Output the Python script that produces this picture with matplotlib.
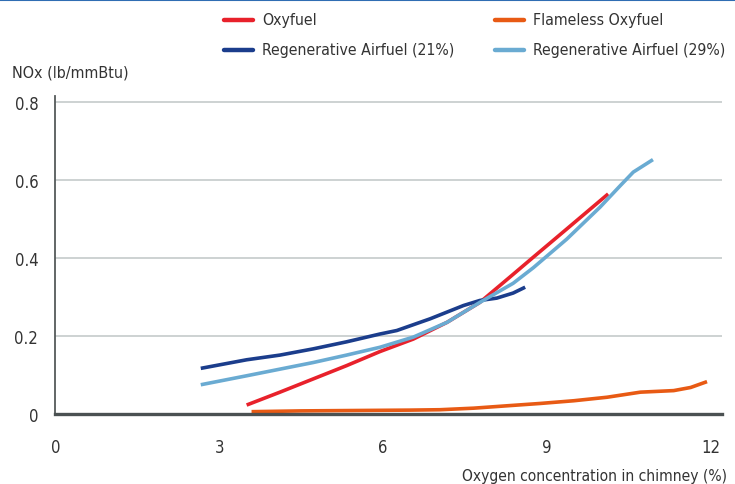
import matplotlib
matplotlib.use("Agg")
import matplotlib.pyplot as plt
from matplotlib.lines import Line2D

plt.rcParams["font.family"] = ["DejaVu Sans"]
plt.rcParams["font.stretch"] = "condensed"

# ---- data ----
series_names = ["Oxyfuel", "Flameless Oxyfuel",
                "Regenerative Airfuel (21%)", "Regenerative Airfuel (29%)"]
series_colors = ["#e8212b", "#e85a14", "#1b3d8c", "#6aabd2"]

oxy_x = [3.50, 4.11, 4.72, 5.33, 5.94, 6.55, 7.17, 7.77, 8.38, 8.75, 9.36, 10.12]
oxy_y = [0.023, 0.056, 0.090, 0.124, 0.160, 0.192, 0.235, 0.286, 0.358, 0.402, 0.474, 0.564]

flameless_x = [3.59, 4.5, 5.5, 6.5, 7.04, 7.66, 8.26, 8.87, 9.49, 10.10, 10.71, 11.32, 11.63, 11.93]
flameless_y = [0.006, 0.008, 0.009, 0.010, 0.011, 0.015, 0.021, 0.027, 0.034, 0.043, 0.056, 0.060, 0.068, 0.083]

regen21_x = [2.66, 3.50, 4.11, 4.72, 5.33, 5.94, 6.25, 6.86, 7.47, 7.77, 8.08, 8.38, 8.60]
regen21_y = [0.117, 0.139, 0.151, 0.167, 0.185, 0.205, 0.214, 0.244, 0.278, 0.291, 0.297, 0.310, 0.325]

regen29_x = [2.66, 3.50, 4.11, 4.72, 5.33, 5.94, 6.55, 7.17, 7.77, 8.38, 8.75, 9.36, 9.97, 10.34, 10.58, 10.94]
regen29_y = [0.075, 0.098, 0.115, 0.132, 0.151, 0.171, 0.197, 0.235, 0.286, 0.335, 0.375, 0.448, 0.530, 0.585, 0.620, 0.652]

x_ticks = [0, 3, 6, 9, 12]
y_ticks = [0, 0.2, 0.4, 0.6, 0.8]
y_tick_labels = ["0", "0.2", "0.4", "0.6", "0.8"]

# ---- figure ----
fig = plt.figure(figsize=(7.35, 4.85), dpi=100)
ax = fig.add_axes([0.0755, 0.1443, 0.9065, 0.6557])
ax.set_xlim(0, 12.2)
ax.set_ylim(0, 0.815)

for yv in y_ticks[1:]:
    ax.axhline(yv, color="#c5cbcb", lw=1.2, zorder=1)

xs = [oxy_x, flameless_x, regen21_x, regen29_x]
ys = [oxy_y, flameless_y, regen21_y, regen29_y]
order = [1, 2, 3, 0]
for i in order:
    ax.plot(xs[i], ys[i], color=series_colors[i], lw=2.6,
            solid_capstyle="butt", solid_joinstyle="round", zorder=3 + i)

for side in ["top", "right"]:
    ax.spines[side].set_visible(False)
ax.spines["left"].set_color("#555a5b")
ax.spines["left"].set_linewidth(1.3)
ax.spines["bottom"].set_color("#4b5152")
ax.spines["bottom"].set_linewidth(2.4)
ax.spines["bottom"].set_zorder(10)

ax.set_xticks(x_ticks)
ax.set_yticks(y_ticks)
ax.set_yticklabels(y_tick_labels)
ax.tick_params(axis="x", length=0, pad=17, labelsize=12, colors="#333333")
ax.tick_params(axis="y", length=0, pad=12.5, labelsize=12, colors="#333333")

fig.text(0.016, 0.849, "NOx (lb/mmBtu)", fontsize=11.5, color="#333333",
         ha="left", va="center")
fig.text(0.989, 0.018, "Oxygen concentration in chimney (%)", fontsize=11.2,
         color="#333333", ha="right", va="center")

# legend, drawn by hand in two rows
leg_pos = [(224, 20.5), (495, 20.5), (224, 51), (495, 51)]
for (px, py), name, col in zip(leg_pos, series_names, series_colors):
    yf = 1 - py / 485
    fig.add_artist(Line2D([px / 735, (px + 29) / 735], [yf, yf],
                          color=col, lw=3.2, solid_capstyle="round"))
    fig.text((px + 38) / 735, yf, name, fontsize=11.3, color="#333333",
             ha="left", va="center")

# thin blue rule across the very top
fig.add_artist(Line2D([0, 1], [0.998, 0.998], color="#2f6db3", lw=1.5))

fig.savefig("out.png", dpi=100)
